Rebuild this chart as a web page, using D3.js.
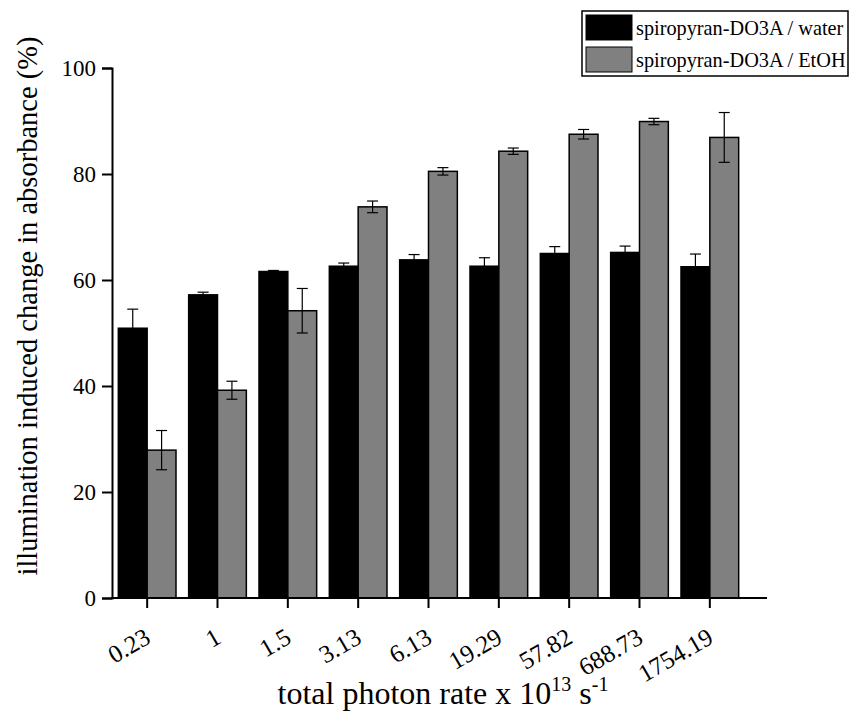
<!DOCTYPE html>
<html>
<head>
<meta charset="utf-8">
<script src="https://cdn.jsdelivr.net/npm/d3@7/dist/d3.min.js"></script>
<style>
  body { margin: 0; background: #fff; }
  text { font-family: "Liberation Serif", "Times New Roman", serif; }
</style>
</head>
<body>
<svg id="chart"></svg>
<script>
// Data
var categories = ["0.23", "1", "1.5", "3.13", "6.13", "19.29", "57.82", "688.73", "1754.19"];
var seriesNames = ["spiropyran-DO3A / water", "spiropyran-DO3A / EtOH"];
var waterValues = [50.9, 57.2, 61.6, 62.6, 63.8, 62.6, 65.0, 65.2, 62.5];
var waterErrors = [3.6, 0.5, 0.2, 0.6, 1.0, 1.6, 1.3, 1.2, 2.4];
var ethanolValues = [27.9, 39.2, 54.2, 73.8, 80.5, 84.3, 87.5, 89.9, 86.9];
var ethanolErrors = [3.7, 1.7, 4.2, 1.1, 0.7, 0.6, 0.9, 0.6, 4.7];
var yTicks = [0, 20, 40, 60, 80, 100];

var width = 849, height = 713;
var colors = ["#000000", "#808080"];

var svg = d3.select("#chart").attr("width", width).attr("height", height);

// Scales
var x = d3.scaleBand().domain(categories).range([112, 745])
    .paddingInner(0.18).paddingOuter(0.09);
var xSub = d3.scaleBand().domain([0, 1]).range([0, x.bandwidth()]);
var y = d3.scaleLinear().domain([0, 100]).range([598, 68]);

// Build rows for bars
var rows = [];
categories.forEach(function (c, i) {
    rows.push({ cat: c, s: 0, v: waterValues[i], e: waterErrors[i] });
    rows.push({ cat: c, s: 1, v: ethanolValues[i], e: ethanolErrors[i] });
});

// Bars
svg.append("g").selectAll("rect")
    .data(rows)
    .enter().append("rect")
    .attr("x", function (d) { return x(d.cat) + xSub(d.s); })
    .attr("y", function (d) { return y(d.v); })
    .attr("width", xSub.bandwidth())
    .attr("height", function (d) { return y(0) - y(d.v); })
    .attr("fill", function (d) { return colors[d.s]; })
    .attr("stroke", "#000")
    .attr("stroke-width", 1.5);

// Error bars
var err = svg.append("g").attr("stroke", "#000").attr("stroke-width", 1.2);
rows.forEach(function (d) {
    var cx = x(d.cat) + xSub(d.s) + xSub.bandwidth() / 2;
    err.append("line").attr("x1", cx).attr("x2", cx)
        .attr("y1", y(d.v + d.e)).attr("y2", y(d.v - d.e));
    [d.v + d.e, d.v - d.e].forEach(function (t) {
        err.append("line").attr("x1", cx - 5.5).attr("x2", cx + 5.5)
            .attr("y1", y(t)).attr("y2", y(t));
    });
});

// Y axis
var yAxis = svg.append("g")
    .attr("transform", "translate(112,0)")
    .call(d3.axisLeft(y).tickValues(yTicks).tickSize(10).tickPadding(6));
yAxis.select(".domain").attr("stroke-width", 2);
yAxis.selectAll(".tick line").attr("stroke-width", 2);
yAxis.selectAll(".tick text").attr("font-size", 23).attr("fill", "#000")
    .style("font-family", "Liberation Serif");

// X axis
var xAxis = svg.append("g")
    .attr("transform", "translate(0,598)")
    .call(d3.axisBottom(x).tickSize(10).tickSizeOuter(0));
xAxis.select(".domain").remove();
xAxis.append("line").attr("x1", 111).attr("x2", 767)
    .attr("stroke", "#000").attr("stroke-width", 2);
xAxis.selectAll(".tick line").attr("stroke-width", 2);
xAxis.selectAll(".tick text")
    .attr("font-size", 25).attr("fill", "#000")
    .style("font-family", "Liberation Serif")
    .attr("text-anchor", "end")
    .attr("dy", null)
    .attr("y", 0)
    .attr("transform", "translate(5,44) rotate(-30)");

// Axis titles
svg.append("text")
    .attr("transform", "translate(37,306) rotate(-90)")
    .attr("text-anchor", "middle")
    .attr("font-size", 28.5)
    .text("illumination induced change in absorbance (%)");

var xt = svg.append("text")
    .attr("x", 443).attr("y", 704)
    .attr("text-anchor", "middle")
    .attr("font-size", 32);
xt.append("tspan").text("total photon rate x 10");
xt.append("tspan").attr("font-size", 20).attr("dy", -13).text("13");
xt.append("tspan").attr("dy", 13).text(" s");
xt.append("tspan").attr("font-size", 20).attr("dy", -13).text("-1");

// Legend
var legend = svg.append("g");
legend.append("rect").attr("x", 582).attr("y", 11).attr("width", 266).attr("height", 65)
    .attr("fill", "#fff").attr("stroke", "#000").attr("stroke-width", 1.5);
seriesNames.forEach(function (name, i) {
    var ly = 15 + i * 32;
    legend.append("rect").attr("x", 586).attr("y", ly).attr("width", 46).attr("height", 25)
        .attr("fill", colors[i]).attr("stroke", "#000").attr("stroke-width", 1);
    legend.append("text").attr("x", 636).attr("y", ly + 20)
        .attr("font-size", 20.3).text(name);
});
</script>
</body>
</html>
